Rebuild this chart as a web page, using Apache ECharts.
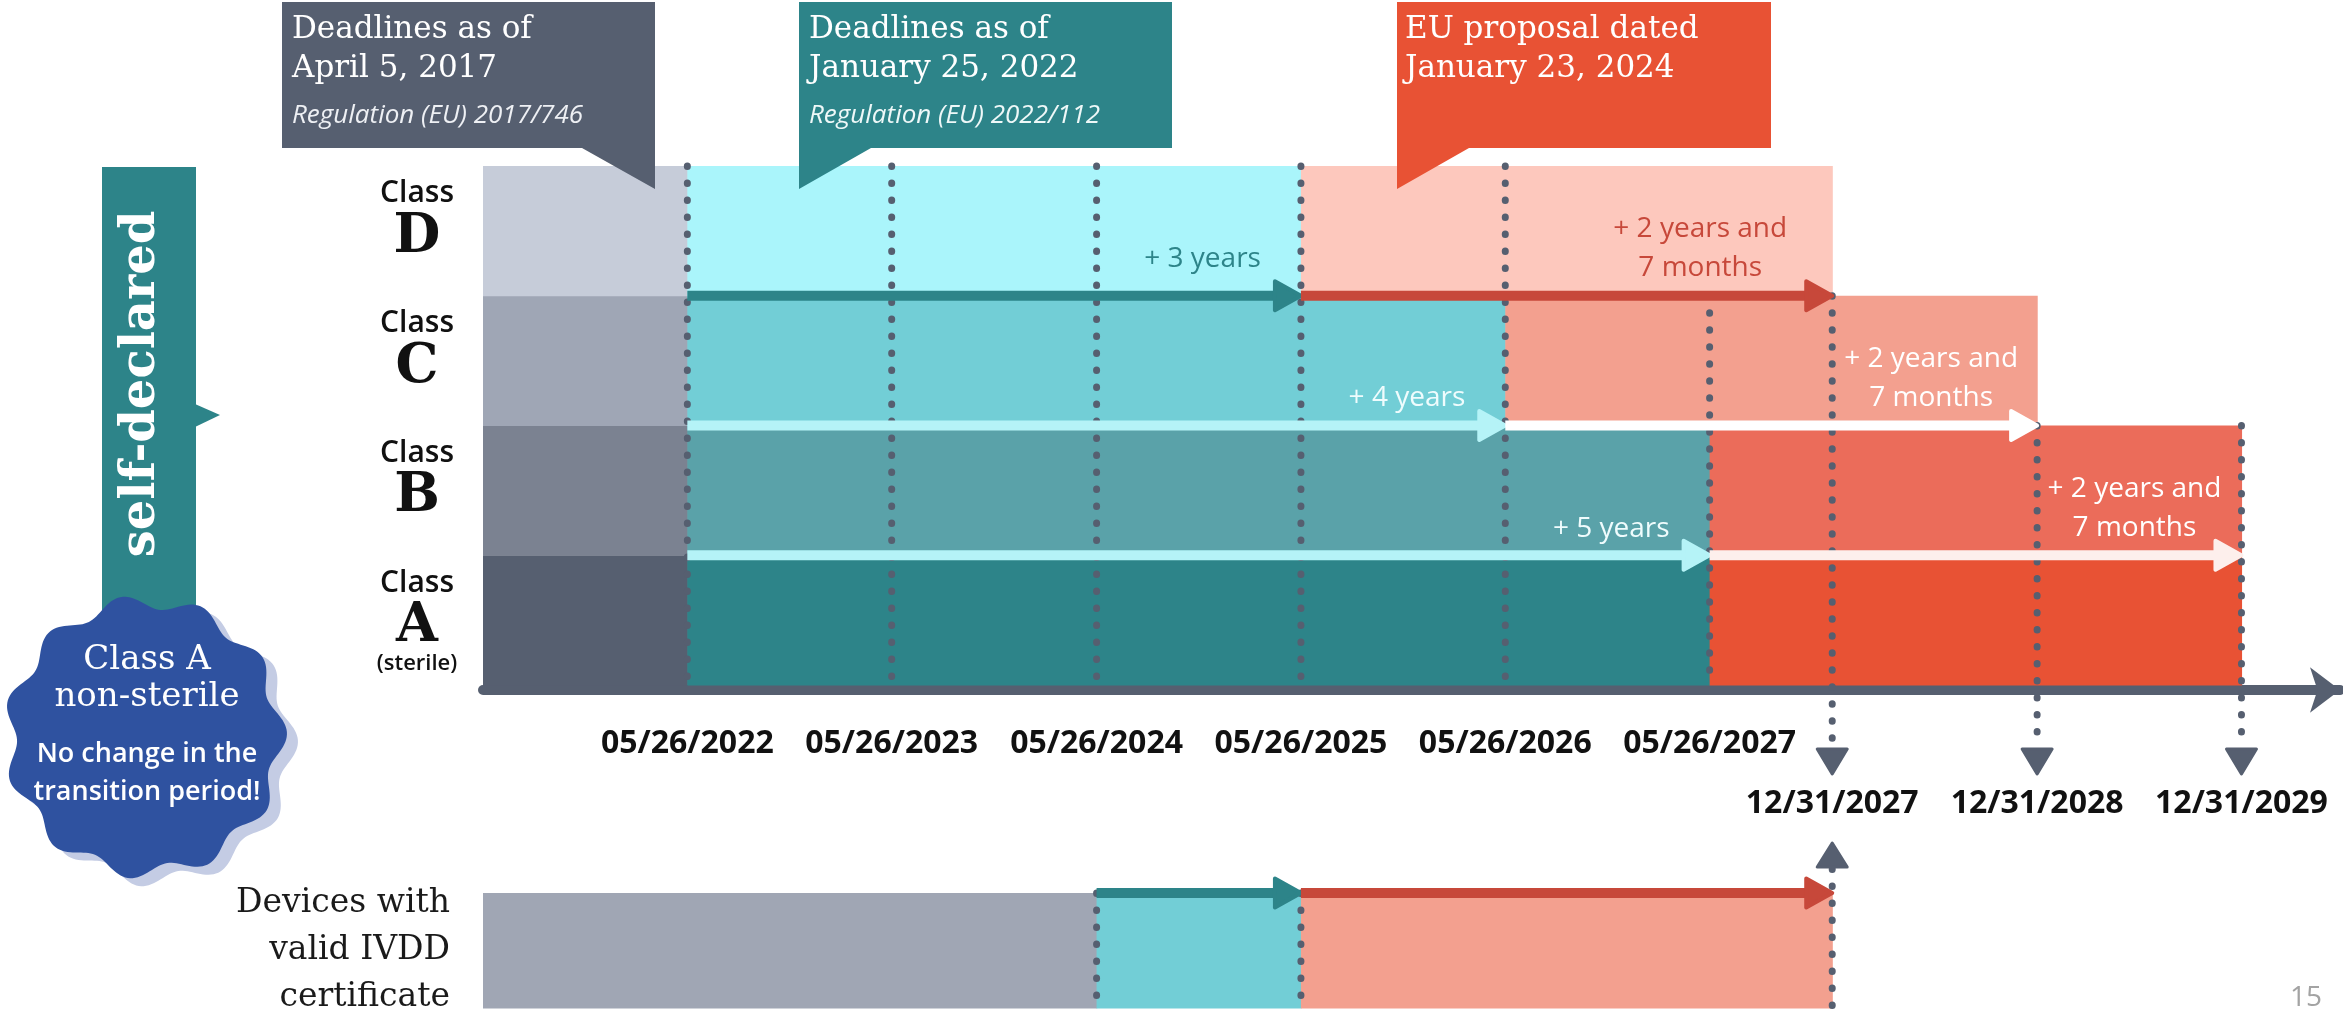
<!DOCTYPE html>
<html><head><meta charset="utf-8">
<script src="https://cdn.jsdelivr.net/npm/echarts@6/dist/echarts.min.js"></script>
<style>html,body{margin:0;padding:0;background:#fff}#c{width:2343px;height:1026px}</style>
</head><body><div id="c"></div>
<script>
// ---------------- DATA ----------------
const classNames = ['A', 'B', 'C', 'D'];            // bottom -> top
const chartStart = '2021-05-26';
const chartEnd = '2030-06-25';
const oldDeadline = '2022-05-26';                     // Regulation (EU) 2017/746
const reg2022Deadline = ['2027-05-26', '2027-05-26', '2026-05-26', '2025-05-26']; // Regulation (EU) 2022/112
const proposalDeadline = ['2029-12-31', '2029-12-31', '2028-12-31', '2027-12-31']; // EU proposal 2024
const extensionLabels2022 = [null, '+ 5 years', '+ 4 years', '+ 3 years'];
const extensionLabelsProposal = [null, '+ 2 years and\n7 months', '+ 2 years and\n7 months', '+ 2 years and\n7 months'];
const milestoneTicks = ['2022-05-26', '2023-05-26', '2024-05-26', '2025-05-26', '2026-05-26', '2027-05-26'];
const finalTicks = ['2027-12-31', '2028-12-31', '2029-12-31'];
const milestoneGuideTop = [4, 4, 4, 4, 4, 3];        // guide line extent in rows
const finalGuideTop = [3, 2, 2];
const ivddSegments = [[chartStart, '2024-05-26'], ['2024-05-26', '2025-05-26'], ['2025-05-26', '2027-12-31']];
const ivddArrows = [['2024-05-26', '2025-05-26'], ['2025-05-26', '2027-12-31']];
const ivddGuides = ['2024-05-26', '2025-05-26', '2027-12-31'];
const ivddLabel = 'Devices with\nvalid IVDD\ncertificate';

// ---------------- STYLE ----------------
const ROW_COLORS = {
  old:  ['#565f70', '#7b8291', '#9fa6b5', '#c6ccd9'],
  reg:  ['#2d8489', '#5aa2a9', '#72ced6', '#aaf5fb'],
  prop: ['#e85234', '#eb6c5a', '#f3a08f', '#fdc8bd']
};
const ARROW_COLORS = { reg: [null, '#b5f3f7', '#b5f3f7', '#2d8489'], prop: [null, '#fdefec', '#ffffff', '#c7483a'] };
const LABEL_COLORS = { reg: [null, '#effcfd', '#effcfd', '#2d8489'], prop: [null, '#ffffff', '#ffffff', '#c7483a'] };
const REG_LABEL_DY = [null, -26, -27, -37];
const PROP_LABEL_DX = [null, -107, -106, -132];
const GUIDE = '#565f70';
const SANS = '"Open Sans", "Noto Sans", sans-serif';
const SERIF = '"DejaVu Serif", serif';

const T = s => { const p = s.split('-').map(Number); return new Date(p[0], p[1] - 1, p[2]).getTime(); };
const pad = n => String(n).padStart(2, '0');
const fmt = v => { const d = new Date(v); return pad(d.getMonth() + 1) + '/' + pad(d.getDate()) + '/' + d.getFullYear(); };

// ---------------- BUILD ----------------
const rectData = [];
classNames.forEach((c, i) => {
  rectData.push({ value: [T(chartStart), T(oldDeadline), i], itemStyle: { color: ROW_COLORS.old[i] } });
  rectData.push({ value: [T(oldDeadline), T(reg2022Deadline[i]), i], itemStyle: { color: ROW_COLORS.reg[i] } });
  rectData.push({ value: [T(reg2022Deadline[i]), T(proposalDeadline[i]), i], itemStyle: { color: ROW_COLORS.prop[i] } });
});
const arrowItems = [];
for (let i = 1; i < 4; i++) {
  arrowItems.push({ value: [T(oldDeadline), T(reg2022Deadline[i]), i], itemStyle: { color: ARROW_COLORS.reg[i] },
    text: extensionLabels2022[i], textColor: LABEL_COLORS.reg[i], dx: -40, dy: REG_LABEL_DY[i], align: 'right' });
  arrowItems.push({ value: [T(reg2022Deadline[i]), T(proposalDeadline[i]), i], itemStyle: { color: ARROW_COLORS.prop[i] },
    text: extensionLabelsProposal[i], textColor: LABEL_COLORS.prop[i], dx: PROP_LABEL_DX[i], dy: -47, align: 'center' });
}
const guideData = [];
milestoneTicks.forEach((d, k) => guideData.push([T(d), milestoneGuideTop[k], 0, 0]));
finalTicks.forEach((d, k) => guideData.push([T(d), finalGuideTop[k], 0, 1]));

const ivddRectColors = ['#a0a6b4', ROW_COLORS.reg[2], ROW_COLORS.prop[2]];
const ivddRectData = ivddSegments.map((s, k) => ({ value: [T(s[0]), T(s[1]), 0], itemStyle: { color: ivddRectColors[k] } }));
const ivddArrowColors = ['#2d8489', '#c7483a'];
const ivddArrowItems = ivddArrows.map((s, k) => ({ value: [T(s[0]), T(s[1]), 1], itemStyle: { color: ivddArrowColors[k] } }));
const ivddGuideData = ivddGuides.map((d, k) => [T(d), 1, 0, k === ivddGuides.length - 1 ? 2 : 0]);

function renderRect(params, api) {
  const p0 = api.coord([api.value(0), api.value(2) + 1]);
  const p1 = api.coord([api.value(1), api.value(2)]);
  return { type: 'rect', shape: { x: p0[0], y: p0[1], width: p1[0] - p0[0] + 0.6, height: p1[1] - p0[1] + 0.6 },
    style: { fill: api.visual('color') } };
}
function makeArrow(items) {
  return function (params, api) {
    const it = items[params.dataIndex];
    const a = api.coord([api.value(0), api.value(2)]);
    const b = api.coord([api.value(1), api.value(2)]);
    const col = api.visual('color');
    const ch = [
      { type: 'line', shape: { x1: a[0], y1: a[1], x2: b[0] - 20, y2: b[1] }, style: { stroke: col, lineWidth: 10 } },
      { type: 'polygon', shape: { points: [[b[0] - 26, b[1] - 14.5], [b[0], b[1]], [b[0] - 26, b[1] + 14.5]] },
        style: { fill: col, stroke: col, lineWidth: 4, lineJoin: 'round' } }
    ];
    if (it.text) ch.push({ type: 'text', x: b[0] + it.dx, y: b[1] + it.dy,
      style: { text: it.text, fill: it.textColor, font: '28px ' + SANS, textAlign: it.align, textVerticalAlign: 'middle', lineHeight: 39 } });
    return { type: 'group', children: ch };
  };
}
function renderGuide(params, api) {
  const x = api.value(0);
  const top = api.coord([x, api.value(1)]);
  const bot = api.coord([x, api.value(2)]);
  const mode = api.value(3);
  let y1 = top[1], y2 = bot[1];
  const ch = [];
  if (mode === 1) {
    y2 = bot[1] + 62;
    ch.push({ type: 'polygon', shape: { points: [[top[0] - 15, bot[1] + 64], [top[0] + 15, bot[1] + 64], [top[0], bot[1] + 89]] },
      style: { fill: GUIDE, stroke: GUIDE, lineWidth: 3, lineJoin: 'round' } });
  }
  if (mode === 2) {
    y1 = top[1] - 24;
    ch.push({ type: 'polygon', shape: { points: [[top[0] - 15, top[1] - 26], [top[0] + 15, top[1] - 26], [top[0], top[1] - 50]] },
      style: { fill: GUIDE, stroke: GUIDE, lineWidth: 3, lineJoin: 'round' } });
  }
  ch.unshift({ type: 'line', shape: { x1: top[0], y1: y1, x2: top[0], y2: y2 },
    style: { stroke: GUIDE, lineWidth: 7, lineCap: 'round', lineDash: [0.5, 16.5] } });
  return { type: 'group', children: ch };
}
function blob(cx, cy, r, amp, n) {
  const pts = [];
  for (let k = 0; k < 360; k++) {
    const a = k / 360 * 2 * Math.PI;
    const rr = r + amp * Math.cos(n * a + 0.3);
    pts.push([cx + rr * Math.cos(a), cy + rr * Math.sin(a)]);
  }
  return pts;
}

const timeAxisBase = { type: 'value', min: T(chartStart), max: T(chartEnd), splitLine: { show: false }, axisTick: { show: false } };
const tickLabel = { fontFamily: SANS, fontWeight: 'bold', fontSize: 32, color: '#111', formatter: fmt };

const option = {
  animation: false,
  backgroundColor: '#fff',
  grid: [
    { left: 483, right: 3, top: 166, height: 519 },
    { left: 483, right: 3, top: 893, height: 133 }
  ],
  xAxis: [
    Object.assign({}, timeAxisBase, { gridIndex: 0, position: 'bottom', offset: 5,
      axisLine: { show: true, onZero: false, symbol: ['none', 'arrow'], symbolSize: [34, 30], lineStyle: { color: '#565f70', width: 10 } },
      axisLabel: Object.assign({ customValues: milestoneTicks.map(T), margin: 38 }, tickLabel) }),
    Object.assign({}, timeAxisBase, { gridIndex: 0, position: 'bottom', offset: 5,
      axisLine: { show: false, onZero: false },
      axisLabel: Object.assign({ customValues: finalTicks.map(T), margin: 98 }, tickLabel) }),
    Object.assign({}, timeAxisBase, { gridIndex: 1, show: false })
  ],
  yAxis: [
    { type: 'value', gridIndex: 0, min: 0, max: 4, show: false },
    { type: 'category', gridIndex: 0, position: 'left', data: classNames,
      axisLine: { show: false }, axisTick: { show: false }, splitLine: { show: false },
      axisLabel: { interval: 0, margin: 66, align: 'center',
        formatter: v => v === 'A' ? '{c|Class}\n{l|A}\n{s|(sterile)}' : '{c|Class}\n{l|' + v + '}\n{s| }',
        rich: {
          c: { fontFamily: SANS, fontWeight: 600, fontSize: 30, color: '#111', lineHeight: 42, align: 'center' },
          l: { fontFamily: SERIF, fontWeight: 'bold', fontSize: 54, color: '#111', lineHeight: 46, align: 'center' },
          s: { fontFamily: SANS, fontWeight: 600, fontSize: 22, color: '#111', lineHeight: 28, align: 'center' }
        } } },
    { type: 'value', gridIndex: 1, min: 0, max: 1, show: false },
    { type: 'category', gridIndex: 1, position: 'left', data: [ivddLabel],
      axisLine: { show: false }, axisTick: { show: false }, splitLine: { show: false },
      axisLabel: { margin: 33, align: 'right', fontFamily: SERIF, fontSize: 33, lineHeight: 47, color: '#1a1a1a', padding: [10, 0, 0, 0] } }
  ],
  series: [
    { type: 'custom', name: 'periods', xAxisIndex: 0, yAxisIndex: 0, z: 1, renderItem: renderRect, data: rectData },
    { type: 'custom', name: 'guides', xAxisIndex: 0, yAxisIndex: 0, z: 2, clip: false, renderItem: renderGuide, data: guideData },
    { type: 'custom', name: 'extensions', xAxisIndex: 0, yAxisIndex: 0, z: 3, clip: false, renderItem: makeArrow(arrowItems), data: arrowItems },
    { type: 'custom', name: 'ivdd', xAxisIndex: 2, yAxisIndex: 2, z: 1, renderItem: renderRect, data: ivddRectData },
    { type: 'custom', name: 'ivddGuides', xAxisIndex: 2, yAxisIndex: 2, z: 2, clip: false, renderItem: renderGuide, data: ivddGuideData },
    { type: 'custom', name: 'ivddArrows', xAxisIndex: 2, yAxisIndex: 2, z: 3, clip: false, renderItem: makeArrow(ivddArrowItems), data: ivddArrowItems }
  ],
  graphic: [
    { type: 'polygon', z: 10, shape: { points: [[282, 2], [655, 2], [655, 189], [582, 148], [282, 148]] }, style: { fill: '#565f70' } },
    { type: 'text', z: 11, x: 292, y: 30, style: { text: 'Deadlines as of', fill: '#fff', font: '31px ' + SERIF, textVerticalAlign: 'middle' } },
    { type: 'text', z: 11, x: 292, y: 69, style: { text: 'April 5, 2017', fill: '#fff', font: '31px ' + SERIF, textVerticalAlign: 'middle' } },
    { type: 'text', z: 11, x: 292, y: 116, style: { text: 'Regulation (EU) 2017/746', fill: '#eef0f4', font: 'italic 26px ' + SANS, textVerticalAlign: 'middle' } },
    { type: 'polygon', z: 10, shape: { points: [[799, 2], [1172, 2], [1172, 148], [871, 148], [799, 189]] }, style: { fill: '#2d8489' } },
    { type: 'text', z: 11, x: 809, y: 30, style: { text: 'Deadlines as of', fill: '#fff', font: '31px ' + SERIF, textVerticalAlign: 'middle' } },
    { type: 'text', z: 11, x: 809, y: 69, style: { text: 'January 25, 2022', fill: '#fff', font: '31px ' + SERIF, textVerticalAlign: 'middle' } },
    { type: 'text', z: 11, x: 809, y: 116, style: { text: 'Regulation (EU) 2022/112', fill: '#eef8f8', font: 'italic 26px ' + SANS, textVerticalAlign: 'middle' } },
    { type: 'polygon', z: 10, shape: { points: [[1397, 2], [1771, 2], [1771, 148], [1469, 148], [1397, 189]] }, style: { fill: '#e85234' } },
    { type: 'text', z: 11, x: 1405, y: 30, style: { text: 'EU proposal dated', fill: '#fff', font: '31px ' + SERIF, textVerticalAlign: 'middle' } },
    { type: 'text', z: 11, x: 1405, y: 69, style: { text: 'January 23, 2024', fill: '#fff', font: '31px ' + SERIF, textVerticalAlign: 'middle' } },
    { type: 'rect', z: 10, shape: { x: 102, y: 167, width: 94, height: 480 }, style: { fill: '#2d8489' } },
    { type: 'polygon', z: 10, shape: { points: [[195, 404], [220, 415], [195, 427]] }, style: { fill: '#2d8489' } },
    { type: 'text', z: 11, x: 142, y: 384, rotation: Math.PI / 2,
      style: { text: 'self-declared', fill: '#fff', font: 'bold 48px ' + SERIF, textAlign: 'center', textVerticalAlign: 'middle' } },
    { type: 'polygon', z: 12, shape: { points: blob(156, 745, 135, 7, 11) }, style: { fill: '#c4cce4' } },
    { type: 'polygon', z: 13, shape: { points: blob(145, 737, 135, 7, 11) }, style: { fill: '#2f52a0' } },
    { type: 'text', z: 14, x: 147, y: 660, style: { text: 'Class A', fill: '#fff', font: '34px ' + SERIF, textAlign: 'center', textVerticalAlign: 'middle' } },
    { type: 'text', z: 14, x: 147, y: 697, style: { text: 'non-sterile', fill: '#fff', font: '34px ' + SERIF, textAlign: 'center', textVerticalAlign: 'middle' } },
    { type: 'text', z: 14, x: 147, y: 754, style: { text: 'No change in the', fill: '#fff', font: '600 27px ' + SANS, textAlign: 'center', textVerticalAlign: 'middle' } },
    { type: 'text', z: 14, x: 147, y: 792, style: { text: 'transition period!', fill: '#fff', font: '600 27px ' + SANS, textAlign: 'center', textVerticalAlign: 'middle' } },
    { type: 'text', z: 10, x: 2306, y: 998, style: { text: '15', fill: '#a3a3a3', font: '28px ' + SANS, textAlign: 'center', textVerticalAlign: 'middle' } }
  ]
};
const chart = echarts.init(document.getElementById('c'));
chart.setOption(option);
</script></body></html>
